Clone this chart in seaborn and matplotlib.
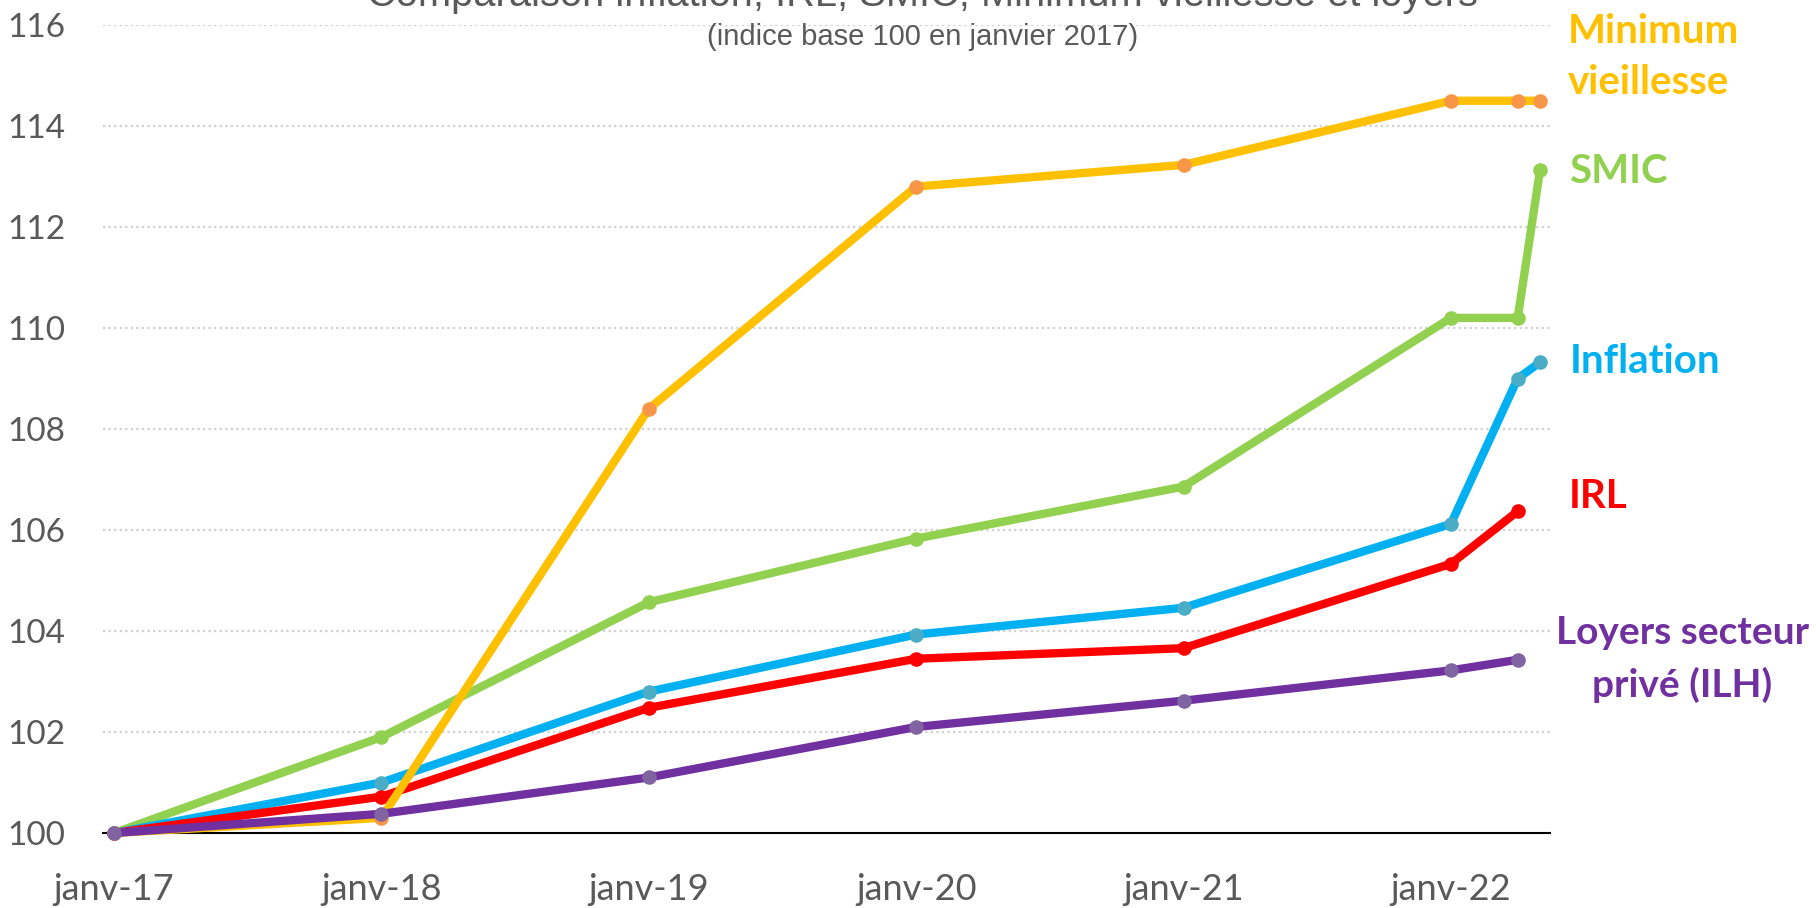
import pandas as pd
import matplotlib
matplotlib.use('Agg')
import matplotlib.pyplot as plt
from matplotlib.ticker import FixedLocator
import seaborn as sns

# months since janv-17
mois = [0, 12, 24, 36, 48, 60, 63, 64]
mois_court = [0, 12, 24, 36, 48, 60, 63]

minimum_vieillesse = [100, 100.3, 108.4, 112.8, 113.23, 114.5, 114.5, 114.5]
smic = [100, 101.9, 104.57, 105.83, 106.86, 110.2, 110.2, 113.12]
inflation = [100, 101.0, 102.8, 103.93, 104.46, 106.12, 109.0, 109.32]
irl = [100, 100.72, 102.48, 103.45, 103.66, 105.33, 106.37]
loyers = [100, 100.38, 101.1, 102.1, 102.62, 103.22, 103.43]

xlabels = ['janv-17', 'janv-18', 'janv-19', 'janv-20', 'janv-21', 'janv-22']
xlabel_pos = [0, 12, 24, 36, 48, 60]
yticks = [100, 102, 104, 106, 108, 110, 112, 114, 116]

sns.set_style('white')
plt.rcParams['font.family'] = ['Lato', 'DejaVu Sans']

grey = '#595959'
fig = plt.figure(figsize=(18.16, 9.08), dpi=100)
ax = fig.add_axes([103/1816, 75/908, (1550-103)/1816, (833-25)/908])

# series: (name, months, values, line colour, marker colour)
series = [
    ('SMIC', mois, smic, '#92D050', '#92D050'),
    ('Inflation', mois, inflation, '#00B0F0', '#4BACC6'),
    ('IRL', mois_court, irl, '#FF0000', '#FF0000'),
    ('Minimum vieillesse', mois, minimum_vieillesse, '#FFC000', '#F79646'),
    ('Loyers', mois_court, loyers, '#7030A0', '#8064A2'),
]
for i, (name, xs, ys, col, mcol) in enumerate(series):
    df = pd.DataFrame({'mois': xs, 'indice': ys})
    sns.lineplot(data=df, x='mois', y='indice', color=col, linewidth=6,
                 marker='o', markersize=10.5, markerfacecolor=mcol,
                 markeredgecolor=mcol, markeredgewidth=0, ax=ax,
                 clip_on=False, zorder=3 + i)

ax.set_xlim(-0.5, 64.45)
ax.set_ylim(100, 116)
ax.set_yticks(yticks)
ax.set_yticklabels([str(v) for v in yticks])
ax.set_xticks(xlabel_pos)
ax.set_xticklabels(xlabels)
ax.xaxis.set_minor_locator(FixedLocator([p - 0.5 for p in xlabel_pos]))
ax.tick_params(axis='x', which='major', length=0, pad=29, labelsize=26, labelcolor=grey)
ax.tick_params(axis='x', which='minor', length=9, width=1.5, direction='in', color='black')
ax.tick_params(axis='y', length=0, pad=27, labelsize=24, labelcolor=grey)
ax.set_xlabel('')
ax.set_ylabel('')

for y in yticks[1:]:
    ax.axhline(y, color='#D0D0D0', linewidth=1.6, linestyle=(0, (1, 1.5)), zorder=1)

for s in ['top', 'right', 'left']:
    ax.spines[s].set_visible(False)
ax.spines['bottom'].set_color('black')
ax.spines['bottom'].set_linewidth(1.5)

# right-hand labels
lab = dict(fontsize=29, fontweight='bold', clip_on=False, va='center')
ax.text(65.26, 115.88, 'Minimum', color='#FFC000', ha='left', **lab)
ax.text(65.26, 114.87, 'vieillesse', color='#FFC000', ha='left', **lab)
ax.text(65.3, 113.09, 'SMIC', color='#92D050', ha='left', **lab)
ax.text(65.35, 109.33, 'Inflation', color='#00B0F0', ha='left', **lab)
ax.text(65.3, 106.67, 'IRL', color='#FF0000', ha='left', **lab)
ax.text(70.4, 103.98, 'Loyers secteur', color='#7030A0', ha='center', fontsize=28,
        fontweight='bold', clip_on=False, va='center')
ax.text(70.4, 102.94, 'privé (ILH)', color='#7030A0', ha='center', fontsize=28,
        fontweight='bold', clip_on=False, va='center')

arial = ['Liberation Sans', 'DejaVu Sans']
fig.text(0.508, 0.9934, 'Comparaison inflation, IRL, SMIC, Minimum vieillesse et loyers',
         ha='center', va='baseline', fontsize=28.7, color=grey, family=arial)
fig.text(0.508, 1 - 37/908, '(indice base 100 en janvier 2017)',
         ha='center', va='center', fontsize=21, color=grey, family=arial)

fig.savefig('out.png', dpi=100)
